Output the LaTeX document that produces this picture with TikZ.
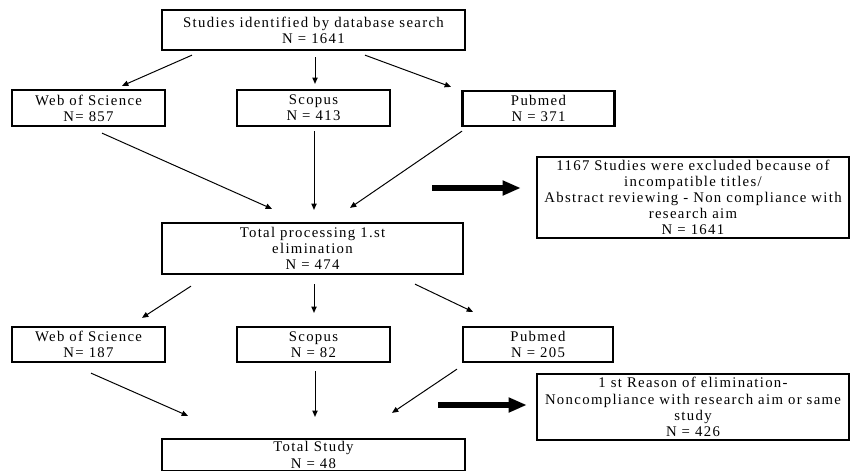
\documentclass[tikz,border=0pt]{standalone}
\usepackage{fontspec}
\setmainfont{Liberation Serif}[LetterSpace=9]
\usetikzlibrary{arrows.meta}

\begin{document}
\begin{tikzpicture}[x=0.025cm, y=-0.025cm,
        box/.style={draw, line width=1.6pt, align=center, inner sep=0pt,
            font=\fontsize{10.5}{11.5}\selectfont},
        link/.style={line width=0.7pt, -{Triangle[length=4.5pt, width=3.8pt]}},
        bigarrow/.style={line width=3.6pt, -{Triangle[length=13pt, width=10pt]}}]
        \clip (0,0) rectangle (851,470);

        % vyhledavani
        \node[box, minimum width=7.575cm, minimum height=1cm] (search) at (313.5,30)
            {Studies identified by database search\\N = 1641};

        % databaze 1
        \node[box, minimum width=3.825cm, minimum height=0.9cm] (wos1) at (88.5,108) {Web of Science\\N= 857};
        \node[box, minimum width=3.825cm, minimum height=0.9cm] (scopus1) at (313.5,108) {Scopus\\N = 413};
        \node[box, minimum width=3.8cm, minimum height=0.875cm] (pubmed1) at (538.5,108.5) {Pubmed\\N = 371};

        \draw[link] ([shift={(-121.5,4)}]search.south) -- ([shift={(33.5,-3)}]wos1.north);
        \draw[link] ([shift={(1.5,6)}]search.south) -- ([shift={(1.5,-5)}]scopus1.north);
        \draw[link] ([shift={(51.5,4)}]search.south) -- ([shift={(-87.5,-3)}]pubmed1.north);

        % 1. eliminace
        \node[box, minimum width=7.525cm, minimum height=1.275cm] (total1) at (312.5,248.5)
            {Total processing 1.st\\elimination\\N = 474};
        \node[box, minimum width=7.8cm, minimum height=2.025cm] (excl1) at (693,197.5)
            {1167 Studies were excluded because of\\incompatible titles/\\Abstract reviewing - Non compliance with\\research aim\\N = 1641};

        \draw[link] ([shift={(13.5,6)}]wos1.south) -- ([shift={(-40.5,-13)}]total1.north);
        \draw[link] ([shift={(0.5,4)}]scopus1.south) -- ([shift={(1.5,-12)}]total1.north);
        \draw[link] ([shift={(-76.5,4)}]pubmed1.south) -- ([shift={(37.5,-14)}]total1.north);

        \coordinate (from1) at (432,188);
        \draw[bigarrow] (from1) -- ([shift={(-15,-9.5)}]excl1.west);

        % databaze 2
        \node[box, minimum width=3.825cm, minimum height=0.875cm] (wos2) at (88.5,344.5) {Web of Science\\N= 187};
        \node[box, minimum width=3.825cm, minimum height=0.875cm] (scopus2) at (313.5,344.5) {Scopus\\N = 82};
        \node[box, minimum width=3.75cm, minimum height=0.875cm] (pubmed2) at (538,344.5) {Pubmed\\N = 205};

        \draw[link] ([shift={(-121.5,11)}]total1.south) -- ([shift={(53.5,-8)}]wos2.north);
        \draw[link] ([shift={(1.5,9)}]total1.south) -- ([shift={(0.5,-13)}]scopus2.north);
        \draw[link] ([shift={(102.5,9)}]total1.south) -- ([shift={(-65,-14)}]pubmed2.north);

        % vysledek
        \node[box, minimum width=7.575cm, minimum height=0.8cm] (total2) at (313.5,455)
            {Total Study\\N = 48};
        \node[box, minimum width=7.8cm, minimum height=1.65cm] (excl2) at (693,407)
            {1 st Reason of elimination-\\Noncompliance with research aim or same\\study\\N = 426};

        \draw[link] ([shift={(2.5,10)}]wos2.south) -- ([shift={(-125.5,-22)}]total2.north);
        \draw[link] ([shift={(1.5,8)}]scopus2.south) -- ([shift={(1.5,-21)}]total2.north);
        \draw[link] ([shift={(-81,6)}]pubmed2.south) -- ([shift={(78.5,-25)}]total2.north);

        \coordinate (from2) at (438,405);
        \draw[bigarrow] (from2) -- ([shift={(-9,-2)}]excl2.west);
    \end{tikzpicture}
\end{document}
